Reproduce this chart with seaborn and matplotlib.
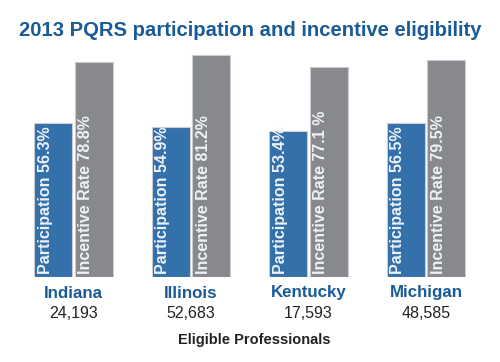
import pandas as pd
import matplotlib
matplotlib.use("Agg")
import matplotlib.pyplot as plt
import matplotlib.transforms as mtransforms
import seaborn as sns

# Datos
estados = ["Indiana", "Illinois", "Kentucky", "Michigan"]
profesionales = ["24,193", "52,683", "17,593", "48,585"]
participacion = [56.3, 54.9, 53.4, 56.5]
incentivo = [78.8, 81.2, 77.1, 79.5]
etiquetas_part = ["Participation 56.3%", "Participation 54.9%",
                  "Participation 53.4%", "Participation 56.5%"]
etiquetas_inc = ["Incentive Rate 78.8%", "Incentive Rate 81.2%",
                 "Incentive Rate 77.1 %", "Incentive Rate 79.5%"]

AZUL = "#3470aa"
GRIS = "#88898c"
AZUL_TITULO = "#1a5b97"

df = pd.DataFrame({
    "estado": estados * 2,
    "valor": participacion + incentivo,
    "serie": ["Participation"] * 4 + ["Incentive"] * 4,
})

sns.set_style("white")
plt.rcParams["font.family"] = ["Liberation Sans", "DejaVu Sans"]

fig = plt.figure(figsize=(5, 3.62), dpi=100)
ax = fig.add_axes([0.029, 1 - 277 / 362, 0.941, 227 / 362])

sns.barplot(data=df, x="estado", y="valor", hue="serie",
            palette=[AZUL, GRIS], saturation=1, width=0.69, gap=0.064,
            edgecolor="#c9ccd0", linewidth=0.8, legend=False, ax=ax)

ax.set_xlim(-0.5, 3.5)
ax.set_ylim(0, 227 / 2.73)
ax.set_xlabel("")
ax.set_ylabel("")
ax.set_xticks([])
ax.set_yticks([])
sns.despine(ax=ax, left=True, bottom=True)

# Etiquetas verticales dentro de las barras
desplaz = mtransforms.offset_copy(ax.transData, fig=fig, x=3.5, y=3, units="dots")
for cont, textos in zip(ax.containers, [etiquetas_part, etiquetas_inc]):
    for barra, texto in zip(cont, textos):
        ax.text(barra.get_x(), 0, texto, rotation=90, ha="left", va="bottom",
                color="#eef2f7", fontsize=11.5, fontweight="bold",
                transform=desplaz)

# Nombres de estados y número de profesionales
trans = ax.get_xaxis_transform()
for i, (est, num) in enumerate(zip(estados, profesionales)):
    ax.text(i, -16 / 227, est, ha="center", va="center", color=AZUL_TITULO,
            fontsize=12.2, fontweight="bold", transform=trans)
    ax.text(i, -36 / 227, num, ha="center", va="center", color="#222222",
            fontsize=11.5, transform=trans)

fig.text(0.508, 1 - 340 / 362, "Eligible Professionals", ha="center",
         va="center", fontsize=10.5, fontweight="bold", color="#222222")
fig.text(0.5, 1 - 30 / 362, "2013 PQRS participation and incentive eligibility",
         ha="center", va="center", fontsize=14.6, fontweight="bold",
         color=AZUL_TITULO)

fig.savefig("out.png", dpi=100)
